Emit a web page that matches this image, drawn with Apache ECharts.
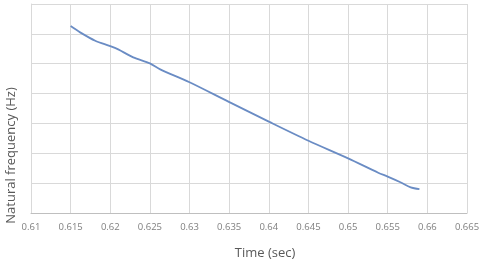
<!DOCTYPE html>
<html><head><meta charset="utf-8">
<script src="https://cdn.jsdelivr.net/npm/echarts@6/dist/echarts.min.js"></script>
<style>html,body{margin:0;padding:0;background:#fff}#c{width:480px;height:264px}</style>
</head><body><div id="c"></div>
<script>
const timeValues = [0.615, 0.6162, 0.6181, 0.620, 0.621, 0.6229, 0.625, 0.6263, 0.630, 0.6349, 0.640, 0.645, 0.650, 0.6538, 0.655, 0.6566, 0.6579, 0.659];
const freqValues = [6.26, 6.05, 5.77, 5.59, 5.48, 5.21, 5.01, 4.81, 4.38, 3.73, 3.06, 2.42, 1.83, 1.35, 1.22, 1.03, 0.86, 0.80];
const xTitle = 'Time (sec)';
const yTitle = 'Natural frequency (Hz)';

const chart = echarts.init(document.getElementById('c'), null, {renderer: 'canvas'});
const font = '"Open Sans", "Liberation Sans", sans-serif';
chart.setOption({
  animation: false,
  grid: {left: 31, right: 13, top: 4, bottom: 51, containLabel: false, outerBoundsMode: 'none'},
  xAxis: {
    type: 'value', min: 0.61, max: 0.665, interval: 0.005,
    name: xTitle, nameLocation: 'middle', nameGap: 34,
    nameTextStyle: {color: '#595959', fontSize: 13, fontFamily: font, padding: [0, 0, 0, 32]},
    axisLine: {show: true, lineStyle: {color: '#bfbfbf', width: 1}},
    axisTick: {show: false},
    axisLabel: {color: '#7f7f7f', fontSize: 9.5, fontFamily: font, margin: 9,
      formatter: v => String(Math.round(v * 1000) / 1000)},
    splitLine: {show: true, lineStyle: {color: '#d9d9d9', width: 1}}
  },
  yAxis: {
    type: 'value', min: 0, max: 7, interval: 1,
    name: yTitle, nameLocation: 'middle', nameGap: 13, nameRotate: 90,
    nameTextStyle: {color: '#595959', fontSize: 13, fontFamily: font, padding: [0, 94, 0, 0]},
    axisLine: {show: true, lineStyle: {color: '#d9d9d9', width: 1}},
    axisTick: {show: false},
    axisLabel: {show: false},
    splitLine: {show: true, lineStyle: {color: '#d9d9d9', width: 1}}
  },
  series: [{
    type: 'line',
    data: timeValues.map((t, i) => [t, freqValues[i]]),
    showSymbol: false, smooth: 0.3,
    lineStyle: {color: '#6a8cc4', width: 1.8}
  }]
});
</script></body></html>
